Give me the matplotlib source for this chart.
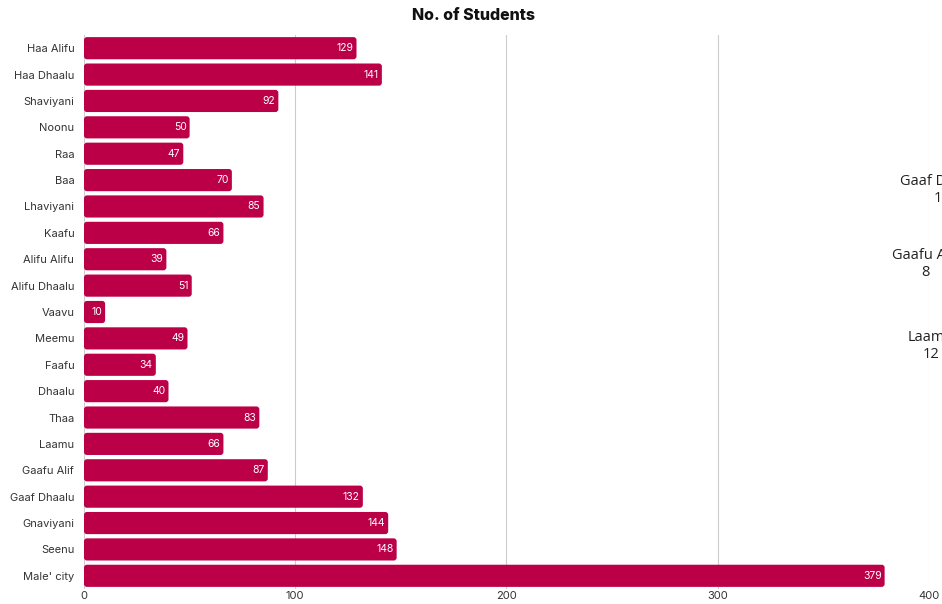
import matplotlib.pyplot as plt
from matplotlib.patches import FancyBboxPatch

atolls = ['Haa Alifu', 'Haa Dhaalu', 'Shaviyani', 'Noonu', 'Raa', 'Baa',
          'Lhaviyani', 'Kaafu', 'Alifu Alifu', 'Alifu Dhaalu', 'Vaavu', 'Meemu',
          'Faafu', 'Dhaalu', 'Thaa', 'Laamu', 'Gaafu Alif', 'Gaaf Dhaalu',
          'Gnaviyani', 'Seenu', "Male' city"]
students = [129, 141, 92, 50, 47, 70, 85, 66, 39, 51, 10, 49, 34, 40, 83, 66,
            87, 132, 144, 148, 379]
ticks = [0, 100, 200, 300, 400]

# stray map labels cut off at the right edge
side_names = ['Gaaf Dhaalu', 'Gaafu Alif', 'Laamu']
side_nums = ['10', '8', '12']

bar_color = '#BC0048'

plt.rcParams['font.family'] = ['Inter', 'DejaVu Sans']

fig = plt.figure(figsize=(9.42, 6.04), dpi=100)
ax = fig.add_axes([84/942, 1 - 589/604, (929 - 84)/942, (589 - 35)/604])

h = 0.84
for i, v in enumerate(students):
    box = FancyBboxPatch((0, i - h/2), v, h,
                         boxstyle='round,pad=0,rounding_size=1.4',
                         mutation_aspect=0.08,
                         fc=bar_color, ec='none', zorder=3)
    ax.add_patch(box)
    ax.text(v - 1.5, i, str(v), ha='right', va='center', color='white',
            fontsize=7.5, zorder=4)

ax.set_xlim(0, 400)
ax.set_ylim(len(atolls) - 0.5, -0.5)
ax.set_yticks(range(len(atolls)))
ax.set_yticklabels(atolls, fontsize=8, color='#333333')
ax.set_xticks(ticks)
ax.set_xticklabels([str(t) for t in ticks], fontsize=8, color='#333333')
ax.tick_params(axis='y', length=0, pad=7)
ax.tick_params(axis='x', length=0, pad=1.5)
ax.xaxis.grid(True, color='#cccccc', lw=0.8, zorder=0)
for s in ax.spines.values():
    s.set_visible(False)

fig.text(474/942, 1 - 15/604, 'No. of Students', ha='center', va='center',
         fontsize=11.5, fontweight='heavy', color='#111111')

xs = [942, 925, 931]
ys = [190, 264, 346]
for n, num, x, y in zip(side_names, side_nums, xs, ys):
    fig.text(x/942, 1 - y/604, n + '\n' + num, ha='center', va='center',
             fontsize=10.5, family=['Open Sans', 'DejaVu Sans'],
             color='#222222', linespacing=1.15)

fig.savefig('out.png', dpi=100)
